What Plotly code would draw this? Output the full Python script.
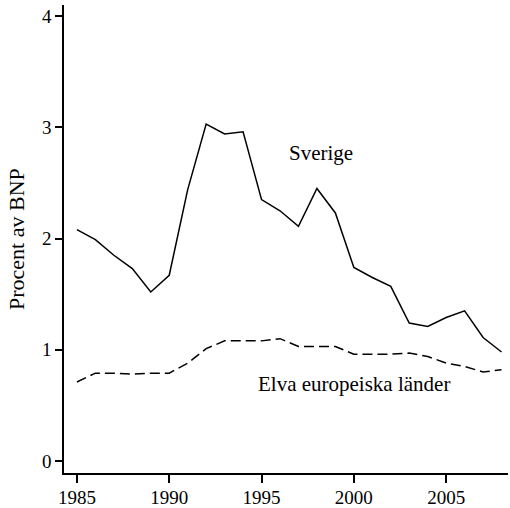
import plotly.graph_objects as go

years = list(range(1985, 2009))
sverige = [2.08, 1.99, 1.85, 1.73, 1.52, 1.67, 2.44, 3.03, 2.94, 2.96, 2.35, 2.25,
           2.11, 2.45, 2.23, 1.74, 1.65, 1.57, 1.24, 1.21, 1.29, 1.35, 1.11, 0.98]
elva = [0.71, 0.79, 0.79, 0.78, 0.79, 0.79, 0.88, 1.01, 1.08, 1.08, 1.08, 1.10,
        1.03, 1.03, 1.03, 0.96, 0.96, 0.96, 0.97, 0.94, 0.88, 0.85, 0.80, 0.82]
xticks = [1985, 1990, 1995, 2000, 2005]
yticks = [0, 1, 2, 3, 4]

font = "Liberation Serif, Times New Roman, serif"

fig = go.Figure()
fig.add_trace(go.Scatter(x=years, y=sverige, mode="lines",
                         line=dict(color="black", width=1.5), name="Sverige"))
fig.add_trace(go.Scatter(x=years, y=elva, mode="lines",
                         line=dict(color="black", width=1.5, dash="10px,5px"),
                         name="Elva europeiska länder"))

fig.add_annotation(x=1998.2, y=2.77, text="Sverige", showarrow=False,
                   font=dict(family=font, size=21, color="black"))
fig.add_annotation(x=2000.0, y=0.69, text="Elva europeiska länder", showarrow=False,
                   font=dict(family=font, size=21, color="black"))
fig.add_annotation(xref="paper", x=0, xanchor="center", xshift=-48,
                   yref="paper", y=0.5, yanchor="middle",
                   text="Procent av BNP", textangle=-90, showarrow=False,
                   font=dict(family=font, size=22, color="black"))

fig.update_layout(
    width=510, height=508,
    margin=dict(l=64, r=2, t=5, b=35),
    paper_bgcolor="white", plot_bgcolor="white",
    showlegend=False,
    font=dict(family=font, size=19, color="black"),
    xaxis=dict(range=[1984.3, 2008.35], tickvals=xticks, ticks="outside",
               ticklen=8, tickwidth=1.5, tickcolor="black",
               showline=True, linecolor="black", linewidth=1.5,
               showgrid=False, zeroline=False, automargin=False,
               ticklabelstandoff=-2),
    yaxis=dict(range=[-0.108, 4.1], tickvals=yticks, ticks="outside",
               ticklen=7, tickwidth=1.5, tickcolor="black",
               showline=True, linecolor="black", linewidth=1.5,
               showgrid=False, zeroline=False, automargin=False),
)

fig.write_html("out.html", config={"displayModeBar": False},
               post_script="document.body.style.margin='0';document.body.style.padding='0';")
